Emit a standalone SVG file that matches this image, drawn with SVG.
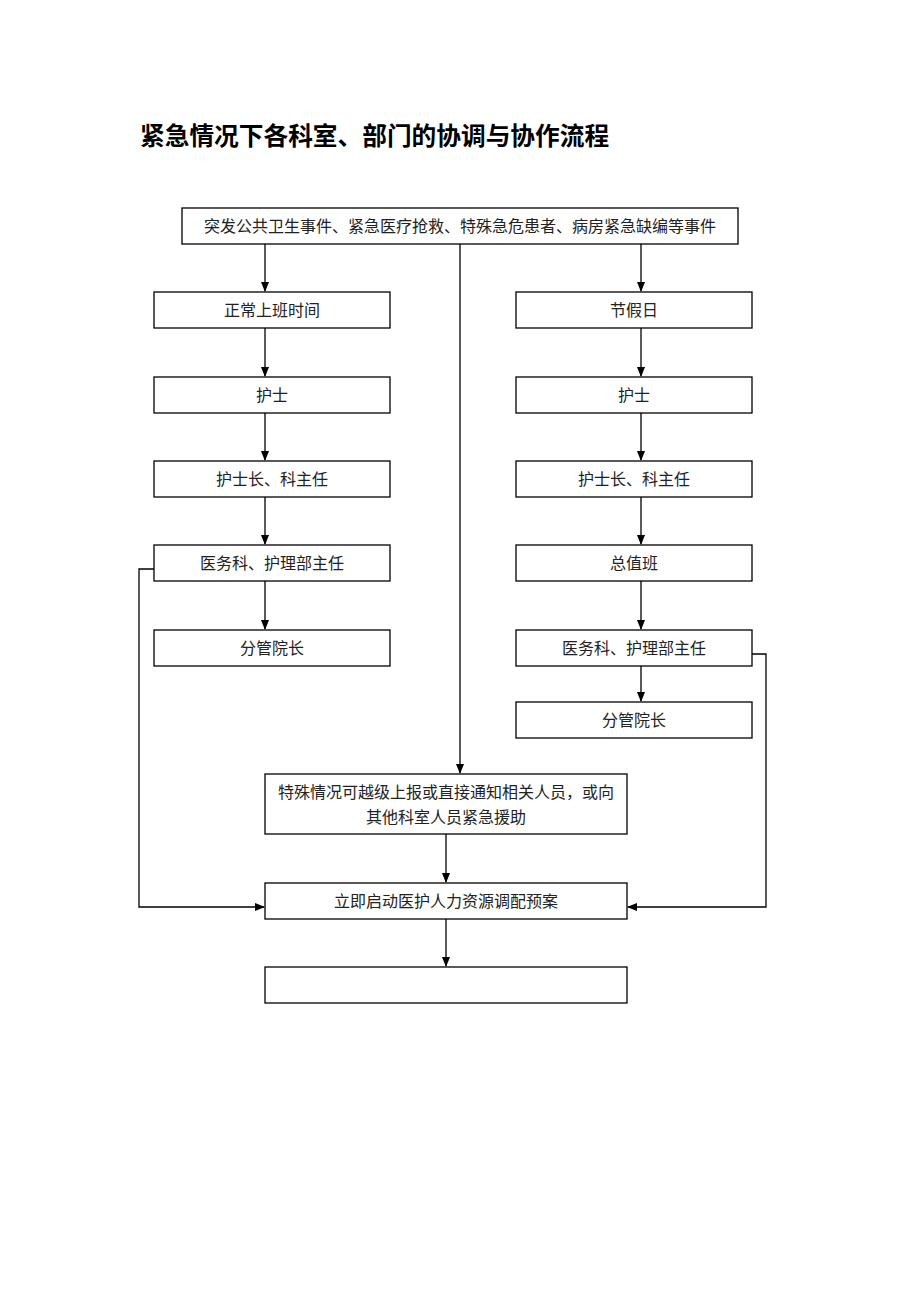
<svg xmlns="http://www.w3.org/2000/svg" width="920" height="1302" viewBox="0 0 920 1302">
<style>
.box{fill:#fff;stroke:#000;stroke-width:1.3}
.t{font-family:"Liberation Serif","Noto Sans CJK SC",serif;font-size:16px;fill:#222;text-anchor:middle}
.title{font-family:"Noto Sans CJK SC",sans-serif;font-size:24.7px;font-weight:bold;fill:#000}
.c{fill:none;stroke:#000;stroke-width:1.3}
</style>
<defs>
<marker id="a" markerWidth="10" markerHeight="10" refX="9" refY="5" orient="auto" markerUnits="userSpaceOnUse">
<path d="M0,1 L10,5 L0,9 Z" fill="#000"/>
</marker>
</defs>
<rect width="920" height="1302" fill="#fff"/>
<text class="title" x="140" y="145">紧急情况下各科室、部门的协调与协作流程</text>
<g id="connectors">
<path class="c" d="M265,244 V291" marker-end="url(#a)"/>
<path class="c" d="M641,244 V291" marker-end="url(#a)"/>
<path class="c" d="M460,244 V773" marker-end="url(#a)"/>
<path class="c" d="M265,328 V376" marker-end="url(#a)"/>
<path class="c" d="M265,413 V460" marker-end="url(#a)"/>
<path class="c" d="M265,497 V544" marker-end="url(#a)"/>
<path class="c" d="M265,581 V629" marker-end="url(#a)"/>
<path class="c" d="M641,328 V376" marker-end="url(#a)"/>
<path class="c" d="M641,413 V460" marker-end="url(#a)"/>
<path class="c" d="M641,497 V544" marker-end="url(#a)"/>
<path class="c" d="M641,581 V629" marker-end="url(#a)"/>
<path class="c" d="M641,666 V701" marker-end="url(#a)"/>
<path class="c" d="M446,834 V882" marker-end="url(#a)"/>
<path class="c" d="M446,919 V966" marker-end="url(#a)"/>
<path class="c" d="M154,569 H139 V907 H264" marker-end="url(#a)"/>
<path class="c" d="M752,654 H766 V907 H628" marker-end="url(#a)"/>
</g>
<g id="n-top"><rect class="box" x="182" y="208" width="556" height="36"/><text class="t" x="460" y="232">突发公共卫生事件、紧急医疗抢救、特殊急危患者、病房紧急缺编等事件</text></g>
<g id="n-l1"><rect class="box" x="154" y="292" width="236" height="36"/><text class="t" x="272" y="316">正常上班时间</text></g>
<g id="n-l2"><rect class="box" x="154" y="377" width="236" height="36"/><text class="t" x="272" y="401">护士</text></g>
<g id="n-l3"><rect class="box" x="154" y="461" width="236" height="36"/><text class="t" x="272" y="485">护士长、科主任</text></g>
<g id="n-l4"><rect class="box" x="154" y="545" width="236" height="36"/><text class="t" x="272" y="569">医务科、护理部主任</text></g>
<g id="n-l5"><rect class="box" x="154" y="630" width="236" height="36"/><text class="t" x="272" y="654">分管院长</text></g>
<g id="n-r1"><rect class="box" x="516" y="292" width="236" height="36"/><text class="t" x="634" y="316">节假日</text></g>
<g id="n-r2"><rect class="box" x="516" y="377" width="236" height="36"/><text class="t" x="634" y="401">护士</text></g>
<g id="n-r3"><rect class="box" x="516" y="461" width="236" height="36"/><text class="t" x="634" y="485">护士长、科主任</text></g>
<g id="n-r4"><rect class="box" x="516" y="545" width="236" height="36"/><text class="t" x="634" y="569">总值班</text></g>
<g id="n-r5"><rect class="box" x="516" y="630" width="236" height="36"/><text class="t" x="634" y="654">医务科、护理部主任</text></g>
<g id="n-r6"><rect class="box" x="516" y="702" width="236" height="36"/><text class="t" x="634" y="726">分管院长</text></g>
<g id="n-special"><rect class="box" x="265" y="774" width="362" height="60"/><text class="t" x="446" y="798">特殊情况可越级上报或直接通知相关人员，或向</text><text class="t" x="446" y="823">其他科室人员紧急援助</text></g>
<g id="n-start"><rect class="box" x="265" y="883" width="362" height="36"/><text class="t" x="446" y="907">立即启动医护人力资源调配预案</text></g>
<g id="n-empty"><rect class="box" x="265" y="967" width="362" height="36"/></g>
</svg>
